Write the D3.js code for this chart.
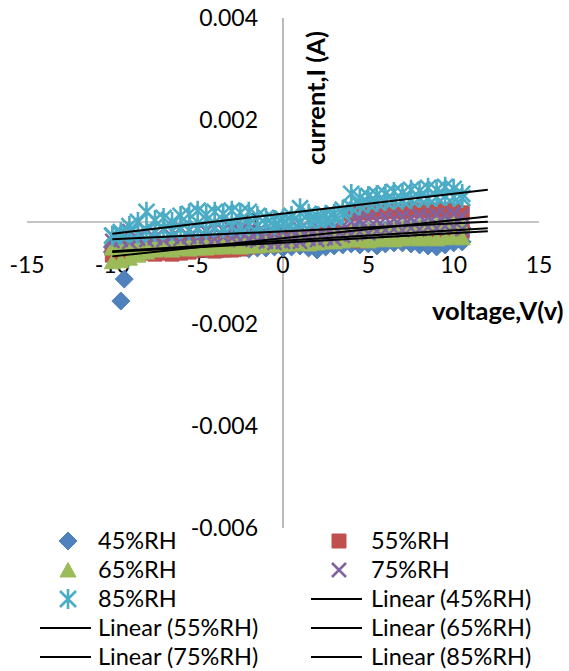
<!DOCTYPE html>
<html>
<head>
<meta charset="utf-8">
<script src="https://cdn.jsdelivr.net/npm/d3@7"></script>
<style>
  body { margin: 0; background: #fff; }
  svg text { font-family: Lato, "Liberation Sans", sans-serif; fill: #000; }
</style>
</head>
<body>
<svg id="chart"></svg>
<script>
// sweep voltages (V), shared by every series
const voltage = [-10, -9.5, -9, -8.5, -8, -7.5, -7, -6.5, -6, -5.5, -5, -4.5, -4, -3.5, -3, -2.5, -2, -1.5, -1, -0.5,
  0, 0.5, 1, 1.5, 2, 2.5, 3, 3.5, 4, 4.5, 5, 5.5, 6, 6.5, 7, 7.5, 8, 8.5, 9, 9.5, 10, 10.5];

// currents in microamps (two sweeps per humidity)
const rh45Up = [-490, -450, -470, -430, -450, -410, -430, -390, -410, -370, -390, -350, -370, -330, -310, -330, -290, -310, -270, -290,
  -250, -270, -240, -250, -220, -200, -220, -180, -200, -160, -180, -140, -160, -120, -140, -100, -120, -100, -120, -80, -100, -120];
const rh45Down = [-590, -570, -570, -550, -570, -550, -550, -530, -550, -530, -530, -530, -510, -530, -510, -510, -530, -510, -510, -490,
  -510, -490, -470, -510, -550, -490, -470, -450, -430, -450, -430, -470, -430, -410, -410, -430, -450, -470, -490, -450, -410, -390];
const rh45OutlierV = [-9.3, -9.5];
const rh45OutlierI = [-1120, -1550];

const rh55Up = [-530, -530, -510, -510, -490, -490, -470, -470, -450, -450, -430, -430, -430, -410, -410, -390, -390, -370, -370, -350,
  -350, -330, -310, -290, -270, -250, -220, -200, 160, 180, 180, 200, 200, 220, 200, 240, 220, 240, 220, 240, 220, 180];
const rh55Down = [-650, -670, -630, -590, -610, -630, -610, -630, -610, -590, -550, -550, -570, -550, -550, -530, -490, -470, -450, -450,
  -430, -430, -410, -390, -370, -350, -350, -330, -350, -370, -310, -290, -270, -250, -240, -220, -200, -200, -180, -160, -160, -180];

const rh65Up = [-510, -470, -490, -450, -470, -430, -450, -410, -430, -390, -410, -370, -390, -350, -370, -330, -350, -310, -330, -290,
  -310, -270, -290, -250, -240, -250, -220, -200, -180, -200, -160, -140, -160, -120, -100, -120, -80, -100, -60, -80, -40, -80];
const rh65Down = [-780, -760, -710, -650, -590, -550, -530, -550, -510, -530, -510, -510, -490, -490, -470, -490, -470, -470, -450, -450,
  -430, -430, -410, -430, -410, -390, -390, -370, -350, -350, -370, -350, -330, -350, -330, -310, -330, -310, -330, -310, -290, -310];

const rh75Up = [-270, -220, -180, -240, -160, -200, -140, -180, -120, -160, -140, -180, -120, -160, -140, -180, -160, -200, -220, -240,
  -200, -180, -140, -160, -120, -140, -100, -80, 0, 40, 60, 40, 80, 60, 100, 80, 120, 100, 140, 120, 160, 120];
const rh75Down = [-370, -350, -390, -330, -350, -310, -350, -290, -330, -290, -310, -290, -330, -290, -310, -350, -330, -370, -390, -410,
  -390, -370, -390, -330, -350, -310, -330, -270, -240, -200, -220, -180, -160, -140, -160, -120, -140, -100, -120, -80, -100, -140];

const rh85Up = [-270, -200, -80, 0, 200, 40, 80, 0, 120, 160, 220, 140, 200, 160, 220, 180, 200, 120, 80, 40,
  60, 120, 270, 160, 120, 140, 160, 240, 550, 470, 510, 530, 550, 590, 570, 630, 610, 670, 630, 690, 650, 550];
const rh85Down = [-270, -250, -220, -240, -180, -200, -160, -180, -140, -160, -120, -140, -100, -120, -80, -100, -60, -80, -40, -60,
  -20, 0, 0, 20, 40, 40, 80, 160, 290, 330, 370, 390, 410, 430, 430, 450, 470, 470, 490, 510, 490, 470];

const seriesNames = ['45%RH', '55%RH', '65%RH', '75%RH', '85%RH'];
const seriesColors = ['#4F81BD', '#C0504D', '#9BBB59', '#8064A2', '#4BACC6'];
const seriesMarkers = ['diamond', 'square', 'triangle', 'cross', 'star'];

const xTicks = [-15, -10, -5, 0, 5, 10, 15];
const yTicks = [0.004, 0.002, 0, -0.002, -0.004, -0.006];
const trendRange = [-10, 12];

const width = 569, height = 671;
const svg = d3.select('#chart').attr('width', width).attr('height', height);

const x = d3.scaleLinear().domain([-15, 15]).range([27, 539]);
const y = d3.scaleLinear().domain([-0.006, 0.004]).range([528, 18]);

// build point lists
const sweeps = [[rh45Up, rh45Down], [rh55Up, rh55Down], [rh65Up, rh65Down], [rh75Up, rh75Down], [rh85Up, rh85Down]];
const series = seriesNames.map((name, s) => {
  let pts = [];
  sweeps[s].forEach(arr => arr.forEach((ua, k) => pts.push({ v: voltage[k], i: ua * 1e-6 })));
  if (s === 0) rh45OutlierV.forEach((v, k) => pts.push({ v: v, i: rh45OutlierI[k] * 1e-6 }));
  return { name, color: seriesColors[s], marker: seriesMarkers[s], pts };
});

// least squares fit, like Excel's linear trendline
function fit(pts) {
  const mx = d3.mean(pts, d => d.v), my = d3.mean(pts, d => d.i);
  const slope = d3.sum(pts, d => (d.v - mx) * (d.i - my)) / d3.sum(pts, d => (d.v - mx) ** 2);
  return { slope, icpt: my - slope * mx };
}

function markerPath(type) {
  switch (type) {
    case 'diamond': return 'M0,-9L9,0L0,9L-9,0Z';
    case 'square': return 'M-7,-7H7V7H-7Z';
    case 'triangle': return 'M0,-7.5L8,7H-8Z';
    case 'cross': return 'M-7,-7L7,7M-7,7L7,-7';
    case 'star': return 'M-8,-8L8,8M-8,8L8,-8M0,-10V10';
  }
}

function drawMarker(g, type, color) {
  const filled = type === 'diamond' || type === 'square' || type === 'triangle';
  g.append('path')
    .attr('d', markerPath(type))
    .attr('fill', filled ? color : 'none')
    .attr('stroke', color)
    .attr('stroke-width', filled ? 1 : 2.6);
}

// axes: gray lines crossing at the origin, no tick marks
const axisColor = '#8c8c8c';
svg.append('line').attr('x1', x(-15)).attr('x2', x(15)).attr('y1', y(0)).attr('y2', y(0))
  .attr('stroke', axisColor).attr('stroke-width', 1.2);
svg.append('line').attr('x1', x(0)).attr('x2', x(0)).attr('y1', y(0.004)).attr('y2', y(-0.006))
  .attr('stroke', axisColor).attr('stroke-width', 1.2);

svg.selectAll('.ytick').data(yTicks).join('text')
  .attr('class', 'ytick')
  .attr('x', x(0) - 25).attr('y', d => y(d)).attr('dy', '0.36em')
  .attr('text-anchor', 'end').attr('font-size', 23)
  .text(d => d === 0 ? '0' : d3.format('.3f')(d).replace('−', '-'));

svg.selectAll('.xtick').data(xTicks).join('text')
  .attr('class', 'xtick')
  .attr('x', d => x(d)).attr('y', y(0) + 43).attr('dy', '0.36em')
  .attr('text-anchor', 'middle').attr('font-size', 23)
  .text(d => d3.format('d')(d).replace('−', '-'));

// points
series.forEach(sr => {
  const g = svg.append('g');
  sr.pts.forEach(p => {
    const m = g.append('g').attr('transform', `translate(${x(p.v)},${y(p.i)})`);
    drawMarker(m, sr.marker, sr.color);
  });
});

// trendlines
series.forEach(sr => {
  const f = fit(sr.pts);
  svg.append('line')
    .attr('x1', x(trendRange[0])).attr('y1', y(f.icpt + f.slope * trendRange[0]))
    .attr('x2', x(trendRange[1])).attr('y2', y(f.icpt + f.slope * trendRange[1]))
    .attr('stroke', '#000').attr('stroke-width', 2);
});

// axis titles
svg.append('text')
  .attr('transform', 'translate(325,98) rotate(-90)')
  .attr('text-anchor', 'middle').attr('font-size', 25.5).attr('font-weight', 'bold')
  .text('current,I (A)');
svg.append('text')
  .attr('x', 432).attr('y', 311).attr('dy', '0.36em')
  .attr('font-size', 25.5).attr('font-weight', 'bold')
  .text('voltage,V(v)');

// legend, two columns
const legendItems = seriesNames.map((n, s) => ({ label: n, s, kind: 'marker' }))
  .concat(seriesNames.map(n => ({ label: `Linear (${n})`, kind: 'line' })));
const colX = [68, 339], colText = [98, 371];
legendItems.forEach((it, k) => {
  const col = k % 2, row = Math.floor(k / 2);
  const cy = 541 + row * 29;
  if (it.kind === 'marker') {
    const m = svg.append('g').attr('transform', `translate(${colX[col]},${cy})`);
    drawMarker(m, seriesMarkers[it.s], seriesColors[it.s]);
  } else {
    svg.append('line').attr('x1', colX[col] - 28).attr('x2', colX[col] + 23)
      .attr('y1', cy).attr('y2', cy).attr('stroke', '#000').attr('stroke-width', 2);
  }
  svg.append('text').attr('x', colText[col]).attr('y', cy).attr('dy', '0.36em')
    .attr('font-size', 23.5).text(it.label);
});
</script>
</body>
</html>
